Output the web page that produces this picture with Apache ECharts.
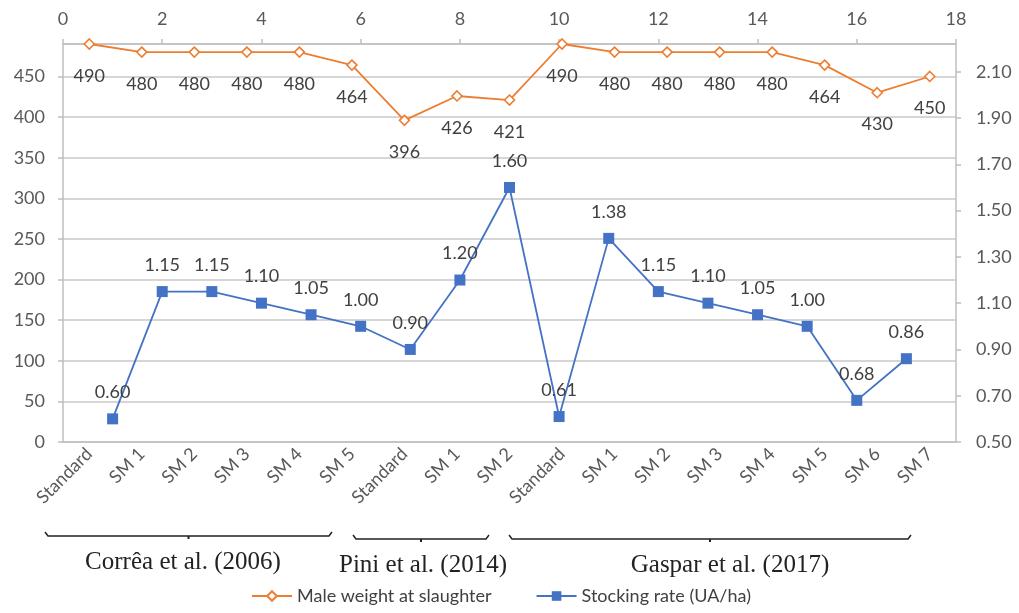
<!DOCTYPE html>
<html><head><meta charset="utf-8">
<script src="https://cdn.jsdelivr.net/npm/echarts@6/dist/echarts.min.js"></script>
<style>html,body{margin:0;padding:0;background:#fff}#c{width:1019px;height:613px}</style>
</head><body><div id="c"></div>
<script>
const categories = ['Standard','SM 1','SM 2','SM 3','SM 4','SM 5','Standard','SM 1','SM 2','Standard','SM 1','SM 2','SM 3','SM 4','SM 5','SM 6','SM 7'];
const maleWeight = [490,480,480,480,480,464,396,426,421,490,480,480,480,480,464,430,450];
const stockingX = [1,2,3,4,5,6,7,8,9,10,11,12,13,14,15,16,17];
const stockingRate = [0.60,1.15,1.15,1.10,1.05,1.00,0.90,1.20,1.60,0.61,1.38,1.15,1.10,1.05,1.00,0.68,0.86];
const groups = [
  {name:'Corrêa et al. (2006)', x0:45, x1:332, y:536, tx:183},
  {name:'Pini et al. (2014)', x0:353, x1:489, y:539, tx:423},
  {name:'Gaspar et al. (2017)', x0:509, x1:911, y:539, tx:730}
];
const axisColor = '#bfbfbf';
const labelColor = '#595959';
const ff = 'Lato';
const chart = echarts.init(document.getElementById('c'), null, {renderer:'canvas'});
const graphics = [];
groups.forEach(g => {
  const mid = (g.x0 + g.x1) / 2;
  graphics.push({type:'polyline', shape:{points:[[g.x0,g.y-4],[g.x0+3,g.y],[g.x1-3,g.y],[g.x1,g.y-4]]}, style:{stroke:'#222', lineWidth:1.5, fill:null}});
  graphics.push({type:'line', shape:{x1:mid,y1:g.y,x2:mid,y2:g.y+3}, style:{stroke:'#222', lineWidth:2}});
  graphics.push({type:'text', x:g.tx, y:g.y+26, style:{text:g.name, font:'25px "Liberation Serif"', fill:'#222', textAlign:'center', textVerticalAlign:'middle'}});
});
chart.setOption({
  animation:false,
  textStyle:{fontFamily:ff},
  grid:{left:63, right:63, top:44, bottom:171, containLabel:false},
  legend:{bottom:3, left:246, itemWidth:40, itemHeight:12, itemGap:44, textStyle:{fontSize:18, color:'#404040', fontFamily:ff}},
  xAxis:[
    {type:'category', data:categories, position:'bottom', boundaryGap:true,
     axisLine:{onZero:false, lineStyle:{color:axisColor, width:1.5}}, axisTick:{show:false},
     axisLabel:{rotate:45, fontSize:18, color:labelColor, margin:9, interval:0, fontFamily:ff}},
    {type:'value', position:'top', min:0, max:18, interval:2,
     axisLine:{show:true, onZero:false, lineStyle:{color:axisColor, width:1.5}},
     axisTick:{show:true, length:5, lineStyle:{color:axisColor, width:1.5}},
     splitLine:{show:false}, axisLabel:{fontSize:18, color:labelColor, margin:16, fontFamily:ff}}
  ],
  yAxis:[
    {type:'value', position:'left', min:0, max:490, interval:50,
     axisLine:{show:true, onZero:false, lineStyle:{color:axisColor, width:1.5}},
     axisTick:{show:true, length:5, lineStyle:{color:axisColor, width:1.5}},
     splitLine:{show:true, lineStyle:{color:'#c8c8c8', width:1.5}},
     axisLabel:{fontSize:18, color:labelColor, margin:18, showMaxLabel:false, fontFamily:ff}},
    {type:'value', position:'right', min:0.5, max:2.22, interval:0.2,
     axisLine:{show:true, onZero:false, lineStyle:{color:axisColor, width:1.5}},
     axisTick:{show:true, length:5, lineStyle:{color:axisColor, width:1.5}},
     splitLine:{show:false},
     axisLabel:{fontSize:18, color:labelColor, margin:20, showMaxLabel:false, fontFamily:ff, formatter:v => v.toFixed(2)}}
  ],
  series:[
    {name:'Male weight at slaughter', type:'line', xAxisIndex:0, yAxisIndex:0, data:maleWeight,
     color:'#ED7D31', symbol:'diamond', symbolSize:10,
     itemStyle:{color:'#ffffff', borderColor:'#ED7D31', borderWidth:1.6},
     lineStyle:{color:'#ED7D31', width:1.8},
     label:{show:true, position:'bottom', distance:17, fontSize:18, color:'#404040', fontFamily:ff}},
    {name:'Stocking rate (UA/ha)', type:'line', xAxisIndex:1, yAxisIndex:1,
     data:stockingX.map((x,i) => [x, stockingRate[i]]),
     color:'#4472C4', symbol:'rect', symbolSize:11,
     itemStyle:{color:'#4472C4'}, lineStyle:{color:'#4472C4', width:1.8},
     label:{show:true, position:'top', distance:12, fontSize:18, color:'#404040', fontFamily:ff, formatter:p => p.value[1].toFixed(2)}}
  ],
  graphic:graphics
});
</script></body></html>
